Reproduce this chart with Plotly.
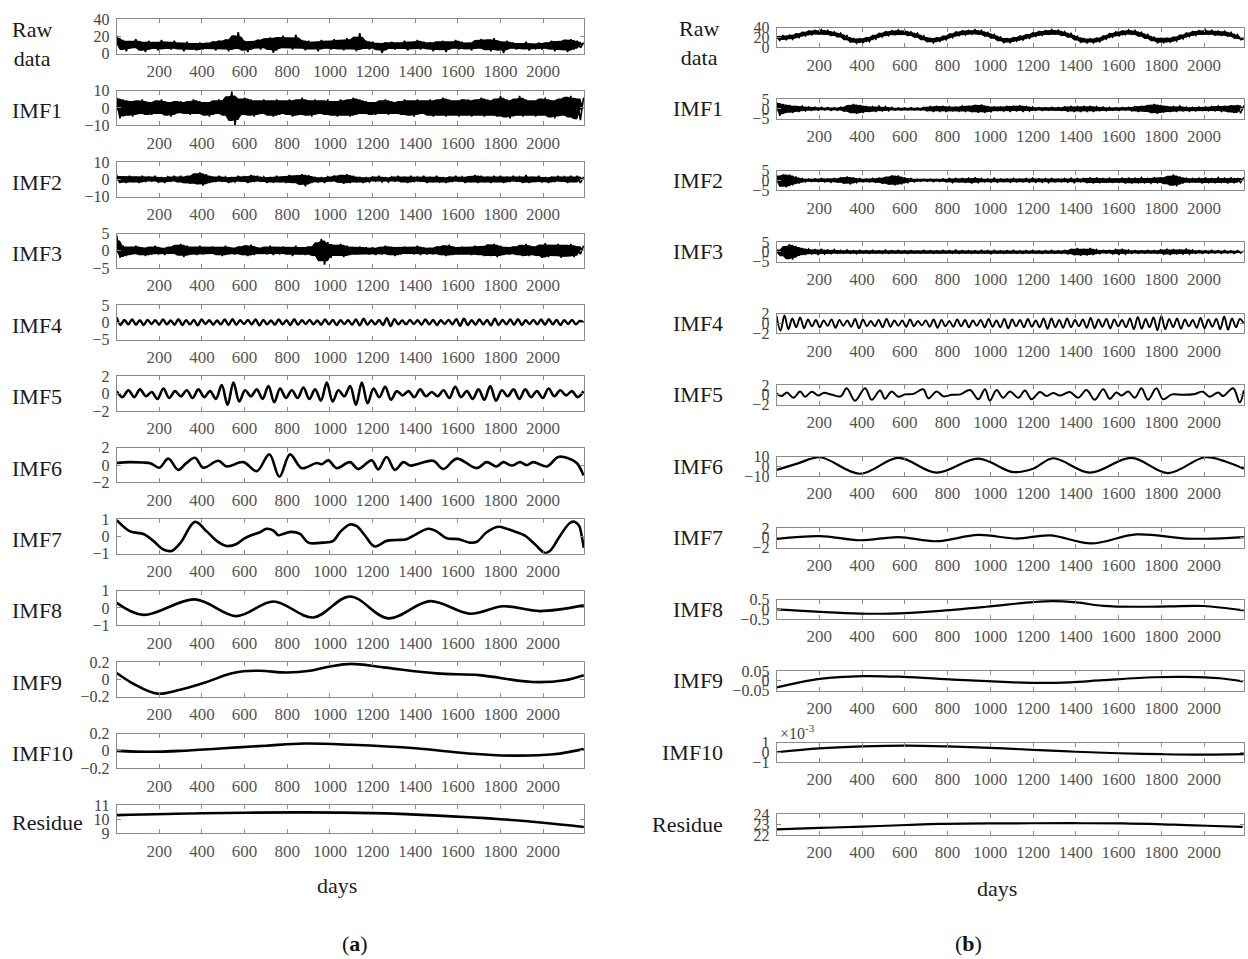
import plotly.graph_objects as go

FONT = "Liberation Serif"
W, H = 1248, 959

# ---------------- tick labels ----------------
X_TICKS = [200, 400, 600, 800, 1000, 1200, 1400, 1600, 1800, 2000]
ROW_NAMES_A = ["Raw<br>data", "IMF1", "IMF2", "IMF3", "IMF4", "IMF5", "IMF6",
               "IMF7", "IMF8", "IMF9", "IMF10", "Residue"]
ROW_NAMES_B = ROW_NAMES_A
Y_TICKS_A = [[0, 20, 40], [-10, 0, 10], [-10, 0, 10], [-5, 0, 5], [-5, 0, 5],
             [-2, 0, 2], [-2, 0, 2], [-1, 0, 1], [-1, 0, 1], [-0.2, 0, 0.2],
             [-0.2, 0, 0.2], [9, 10, 11]]
Y_TEXT_A = [["0", "20", "40"], ["\u221210", "0", "10"], ["\u221210", "0", "10"],
            ["\u22125", "0", "5"], ["\u22125", "0", "5"], ["\u22122", "0", "2"],
            ["\u22122", "0", "2"], ["\u22121", "0", "1"], ["\u22121", "0", "1"],
            ["\u22120.2", "0", "0.2"], ["\u22120.2", "0", "0.2"], ["9", "10", "11"]]
Y_TICKS_B = [[0, 20, 40], [-5, 0, 5], [-5, 0, 5], [-5, 0, 5], [-2, 0, 2],
             [-2, 0, 2], [-10, 0, 10], [-2, 0, 2], [-0.5, 0, 0.5],
             [-0.05, 0, 0.05], [-1, 0, 1], [22, 23, 24]]
Y_TEXT_B = [["0", "20", "40"], ["\u22125", "0", "5"], ["\u22125", "0", "5"],
            ["\u22125", "0", "5"], ["\u22122", "0", "2"], ["\u22122", "0", "2"],
            ["\u221210", "0", "10"], ["\u22122", "0", "2"], ["\u22120.5", "0", "0.5"],
            ["\u22120.05", "0", "0.05"], ["\u22121", "0", "1"], ["22", "23", "24"]]

# ---------------- panel (a) data ----------------
a_raw = [21, 6, 16, 3, 14, 8, 17, 5, 13, 2,
         15, 7, 12, 4, 16, 6, 13, 5, 15, 7,
         12, 3, 14, 6, 11, 4, 13, 5, 12, 6,
         14, 4, 15, 7, 16, 3, 18, 6, 25, 5,
         15, 2, 14, 7, 16, 5, 17, 8, 19, 1,
         18, 6, 21, 7, 17, 5, 22, 8, 16, 4,
         15, 6, 13, 3, 16, 7, 14, 5, 17, 6,
         15, 4, 18, 7, 16, 3, 24, 6, 15, 5,
         14, 7, 12, 1, 13, 6, 14, 5, 12, 7,
         15, 4, 13, 6, 16, 5, 14, 7, 13, 3,
         14, 6, 15, 2, 13, 7, 16, 5, 14, 6,
         12, 4, 15, 7, 17, 5, 16, 3, 18, 6,
         14, 1, 15, 7, 13, 5, 12, 6, 14, 4,
         11, 6, 13, 5, 12, 7, 15, 3, 14, 6,
         16, 2, 17, 5, 15, 7, 13]
a_imf1 = [6, -6, 5, -4, 4, -5, 4, -3, 5, -4,
          3, -4, 4, -3, 5, -4, 3, -5, 4, -3,
          4, -3, 3, -4, 5, -3, 4, -4, 3, -5,
          4, -3, 5, -4, 4, -5, 9.5, -10, 5, -4,
          6, -4, 5, -5, 4, -3, 5, -4, 4, -5,
          5, -4, 4, -3, 5, -5, 4, -4, 6, -4,
          4, -5, 5, -3, 4, -4, 5, -4, 3, -5,
          5, -4, 4, -5, 6, -4, 5, -3, 4, -4,
          3, -4, 4, -3, 5, -4, 4, -3, 3, -4,
          5, -4, 4, -5, 5, -3, 4, -4, 5, -5,
          4, -4, 6, -5, 5, -4, 4, -5, 5, -4,
          5, -5, 4, -4, 6, -5, 5, -4, 4, -5,
          7, -5, 5, -6, 4, -4, 7, -5, 5, -4,
          4, -5, 5, -4, 6, -5, 4, -6, 5, -4,
          6, -5, 7, -6, 5, -7, 6]
a_imf2 = [2.5, -2, 1.5, -2, 2, -1.5, 1.5, -2, 2, -1.5,
          1.5, -1, 2, -1.5, 1, -2, 1.5, -1, 2, -1.5,
          2, -2, 1.5, -2.5, 3, -2.5, 4, -3.5, 3, -2,
          1.5, -1.5, 2, -1, 1.5, -2, 1, -1.5, 2, -1,
          1.5, -2, 2.5, -1.5, 2, -1, 1.5, -2, 1, -1.5,
          2, -1.5, 1.5, -2, 2.5, -2, 2, -2.5, 3, -4,
          2.5, -2, 1.5, -1.5, 1, -2, 1.5, -1, 2, -1.5,
          2.5, -2.5, 3, -2, 2, -1.5, 1.5, -2, 1, -1.5,
          1.5, -1, 2, -1.5, 1, -1.5, 1.5, -1, 2, -1.5,
          1.5, -2, 2, -1.5, 1.5, -1, 2, -2, 1.5, -1.5,
          2, -1.5, 1, -2, 1.5, -1.5, 2, -1, 1.5, -2,
          1.5, -1.5, 2.5, -2, 2, -1.5, 1.5, -2, 2, -1.5,
          2, -2, 1.5, -1.5, 2, -1, 1.5, -2, 2.5, -2,
          1.5, -1.5, 2, -1.5, 1, -2, 1.5, -1.5, 2, -1,
          1.5, -2, 2, -1.5, 2, -2, 1.5]
a_imf3 = [4.5, -2, 1.5, -1.5, 1, -1, 1.5, -1, 1, -1.5,
          1, -1, 1.5, -1, 0.8, -1.2, 1, -0.8, 1.5, -1,
          2, -1.8, 1.5, -1, 1, -1.2, 1.5, -1, 1, -0.8,
          1.2, -1, 1, -1.5, 1.5, -1, 0.8, -1, 1.2, -1,
          1.5, -1.5, 1.8, -1.2, 1, -0.8, 1, -1, 1.5, -1.2,
          1, -1, 1.2, -0.8, 1, -1.5, 1.5, -1, 1, -1.2,
          1.2, -1, 1.5, -2, 3.5, -4, 2.5, -2, 1.5, -1,
          2, -1.8, 1.5, -1.2, 1, -1, 1.2, -0.8, 1, -1,
          1, -1.2, 0.8, -1, 1.5, -1, 1.2, -1.5, 1, -1,
          1.2, -0.8, 1, -1, 1.5, -1.2, 1, -1, 0.8, -1,
          1.2, -1, 1.5, -1.5, 1.8, -1.2, 1, -1, 1.2, -0.8,
          1, -1.2, 1.5, -1, 1.2, -1.5, 1.8, -1.5, 2, -1.8,
          1.5, -1.2, 1, -1, 1.2, -1, 1.5, -1.5, 2, -1.5,
          1.2, -1, 1.5, -2, 2.2, -1.8, 1.5, -1.2, 2, -2,
          1.5, -1.5, 2, -1.8, 1.2, -1, 1.5]
a_imf4 = [1.4, -0.8, 0.7, -0.6, 0.8, -0.7, 0.6, -0.8, 0.7, -0.5,
          0.6, -0.7, 0.8, -0.6, 0.5, -0.7, 0.9, -0.8, 0.6, -0.6,
          0.7, -0.9, 0.8, -0.5, 0.6, -0.7, 0.5, -0.6, 0.8, -0.8,
          0.9, -0.7, 0.6, -0.5, 0.7, -0.6, 0.8, -0.9, 0.7, -0.6,
          0.5, -0.7, 0.8, -0.6, 0.6, -0.8, 0.9, -0.7, 0.6, -0.5,
          0.7, -0.6, 0.5, -0.7, 0.8, -0.6, 0.7, -0.8, 0.6, -0.5,
          0.6, -0.7, 0.8, -0.9, 1.0, -0.7, 0.6, -0.6, 0.7, -0.8,
          1.2, -1.1, 0.9, -0.6, 0.5, -0.6, 0.7, -0.5, 0.6, -0.7,
          0.8, -0.6, 0.7, -0.8, 0.6, -0.5, 0.7, -0.6, 0.9, -1.0,
          1.0, -0.8, 0.6, -0.7, 0.8, -0.6, 0.7, -0.9, 1.0, -0.8,
          0.7, -0.6, 0.8, -0.7, 0.9, -0.8, 0.6, -0.5, 0.7, -0.6,
          0.8, -0.7, 0.9, -0.6, 0.7, -0.8, 0.6, -0.5, 0.7, -0.6,
          0.4, 0.0]
a_imf5 = [0.3, -0.4, 0.4, -0.4, 0.5, -0.3, 0.2, -0.6, 0.6, -0.5,
          0.3, -0.3, 0.4, -0.5, 0.5, -0.4, 0.3, -0.6, 1.0, -1.3,
          1.3, -0.9, 0.4, -0.3, 0.5, -0.6, 0.9, -1.0, 0.6, -0.5,
          0.4, -0.5, 0.7, -0.6, 0.5, -0.8, 1.3, -0.9, 0.4, -0.3,
          0.9, -1.3, 1.3, -1.1, 0.6, -0.4, 0.8, -0.7, 0.3, -0.2,
          0.3, -0.4, 0.5, -0.3, 0.2, -0.3, 0.4, -0.5, 0.8, -0.4,
          0.3, -0.6, 0.5, -0.7, 0.9, -0.8, 0.4, -0.3, 0.5, -0.6,
          0.5, -0.4, 0.3, -0.5, 0.6, -0.3, 0.4, -0.2, 0.3, -0.4,
          0.3]
a_imf6_days = [0, 60, 120, 160, 200, 242, 289, 325, 367, 406, 477, 516, 594, 657,
               716, 763, 813, 868, 938, 960, 993, 1032, 1094, 1133, 1196, 1227,
               1266, 1305, 1345, 1376, 1420, 1485, 1532, 1595, 1689, 1735, 1782,
               1813, 1853, 1892, 1923, 1954, 2017, 2071, 2118, 2158, 2190]
a_imf6 = [0.25, 0.35, 0.3, 0.2, -0.3, 0.75, -0.55, 0.2, 0.85, -0.3, 0.5, -0.15,
          0.35, -0.7, 1.25, -1.35, 1.25, -0.35, 0.25, 0.1, 0.55, -0.35, 0.35,
          -0.45, 0.55, -0.5, 0.95, -0.55, 0.35, -0.05, 0.2, 0.5, -0.45, 0.75,
          -0.35, 0.35, -0.15, 0.35, -0.05, 0.35, 0.0, 0.35, -0.15, 0.95, 0.8,
          0.25, -1.2]
a_imf7_days = [0, 63, 125, 172, 219, 258, 300, 367, 422, 469, 516, 560, 594, 625,
               672, 703, 735, 758, 780, 820, 860, 899, 969, 1016, 1047, 1094, 1126,
               1165, 1210, 1266, 1313, 1360, 1407, 1462, 1500, 1548, 1603, 1657,
               1690, 1735, 1790, 1830, 1876, 1915, 1962, 2009, 2035, 2080, 2127,
               2150, 2170, 2181, 2191]
a_imf7 = [0.95, 0.3, 0.15, -0.25, -0.75, -0.83, -0.35, 0.85, 0.3, -0.25, -0.55,
          -0.45, -0.15, 0.05, 0.25, 0.45, 0.35, 0.08, 0.15, 0.27, 0.15, -0.35,
          -0.35, -0.25, 0.25, 0.7, 0.6, 0.05, -0.57, -0.25, -0.2, -0.15, 0.15,
          0.45, 0.3, -0.1, -0.15, -0.35, -0.3, 0.25, 0.57, 0.45, 0.25, 0.05,
          -0.45, -0.95, -0.8, 0.05, 0.8, 0.85, 0.6, 0.05, -0.65]
a_imf8_days = [0, 125, 367, 563, 735, 922, 1094, 1274, 1470, 1657, 1813, 1985, 2191]
a_imf8 = [0.3, -0.4, 0.5, -0.47, 0.38, -0.55, 0.67, -0.6, 0.4, -0.33, 0.1, -0.18, 0.15]
a_imf9_days = [0, 78, 190, 297, 422, 531, 594, 672, 800, 906, 1000, 1100, 1250,
               1500, 1700, 1950, 2100, 2191]
a_imf9 = [0.075, -0.05, -0.165, -0.12, -0.03, 0.065, 0.095, 0.1, 0.08, 0.1, 0.15,
          0.18, 0.14, 0.07, 0.05, -0.03, -0.01, 0.05]
a_imf10_days = [0, 150, 300, 500, 700, 880, 1100, 1400, 1650, 1850, 2050, 2191]
a_imf10 = [0.0, -0.01, 0.0, 0.03, 0.06, 0.085, 0.07, 0.03, -0.03, -0.055, -0.04, 0.02]
a_res_days = [0, 400, 860, 1200, 1484, 1800, 2000, 2191]
a_res = [10.29, 10.42, 10.48, 10.43, 10.27, 10.0, 9.75, 9.45]

# ---------------- panel (b) data ----------------
b_raw = [22, 14, 24, 15.5, 24.5, 16, 26.5, 19.5, 30.5, 23,
         33, 25, 35, 27, 36, 26.5, 34.5, 24, 31.5, 21.5,
         29, 18, 24, 11, 18, 8, 17.5, 9, 19, 11.5,
         23, 16.5, 28, 21, 31.5, 23.5, 33.5, 25.5, 35.5, 26.5,
         34.5, 24, 31.5, 21.5, 29, 17.5, 23.5, 11.5, 18.5, 9,
         19, 11.5, 22, 15, 26, 19.5, 31, 23.5, 33.5, 25,
         34.5, 26.5, 36, 27, 34.5, 23.5, 30.5, 19.5, 26.5, 15,
         21, 9.5, 17.5, 9, 19.5, 12, 22.5, 14.5, 25, 18,
         29, 22, 32, 24, 34, 26.5, 36, 27, 35, 24.5,
         32, 21.5, 28.5, 17, 22.5, 10.5, 18, 8.5, 17.5, 8.5,
         18, 10.5, 22, 16, 27.5, 20.5, 31, 23, 33, 25.5,
         35.5, 26.5, 34.5, 23.5, 30.5, 19.5, 26.5, 14.5, 20.5, 9.5,
         18, 9, 18.5, 10, 20, 12.5, 23.5, 17, 28.5, 21.5,
         32, 24, 34, 26.5, 36, 26.5, 34.5, 24.5, 33, 24,
         33, 23, 30.5, 19.5, 26, 15.5, 17]
b_imf1 = [3.5, -3.5, 2.5, -2, 2, -2, 1.5, -1.5, 1.5, -1,
          1, -0.8, 1, -0.7, 0.8, -0.6, 0.7, -0.8, 0.6, -0.7,
          0.8, -1, 1.5, -2, 2.5, -2.5, 2, -2, 1.5, -1.5,
          1.2, -1.5, 1.5, -1, 1.2, -1, 0.8, -0.6, 0.5, -0.6,
          0.5, -0.5, 0.6, -0.5, 0.5, -0.6, 0.8, -1, 1.2, -1.5,
          1.5, -1.2, 1.5, -1.5, 1.2, -1, 1, -1.2, 1.5, -1.2,
          1.5, -1.5, 2, -2, 2.2, -2, 1.5, -1.5, 1, -0.8,
          1, -1.2, 1.5, -1.5, 1.5, -1.2, 1.8, -1.5, 1.5, -1.2,
          1, -0.8, 0.7, -0.8, 0.6, -0.7, 0.8, -0.6, 0.7, -0.8,
          1, -1.2, 1.5, -1.5, 1.2, -1.5, 1.5, -1.2, 1.5, -1.5,
          1.2, -1, 1, -1, 0.8, -0.7, 0.6, -0.8, 0.7, -0.6,
          0.8, -1, 1.2, -1.5, 1.5, -1.2, 1.8, -2, 2.5, -2.5,
          2, -1.8, 1.5, -1.5, 1.2, -1.5, 1.5, -1, 1, -1.2,
          0.8, -1, 1, -0.8, 1, -1, 1.2, -1, 1.5, -1.2,
          1.5, -1.5, 1.8, -2, 2, -2.2, 1.8]
b_imf2 = [2, -3, 3, -3.5, 3, -2.5, 2, -1.5, 1, -0.8,
          0.7, -0.6, 0.8, -0.7, 1, -0.8, 0.7, -1, 1, -0.8,
          1.2, -1.5, 2, -2, 1.5, -1.2, 1, -0.8, 0.7, -0.8,
          1, -1, 1.2, -1.5, 1.5, -2, 2.5, -2.5, 2.5, -2,
          1.5, -1.2, 1, -0.8, 0.6, -0.5, 0.6, -0.5, 0.6, -0.7,
          0.5, -0.6, 0.8, -0.8, 1, -1.2, 1, -0.8, 1, -1,
          1.2, -1.5, 1.5, -1.2, 1, -0.8, 0.8, -1, 1.2, -1,
          0.8, -0.7, 0.8, -1, 1, -0.8, 0.7, -0.8, 1, -1,
          1.2, -1, 0.8, -1, 1, -1.2, 1, -0.8, 0.7, -0.8,
          1, -1, 1.2, -1.2, 1, -0.8, 1, -1.2, 1.5, -1.5,
          1.5, -1.2, 1, -1, 1.2, -1, 0.8, -1, 1.2, -1.5,
          1.5, -1.5, 1.2, -1.2, 1.5, -1.2, 1, -1.5, 1.5, -1.2,
          1.5, -1.5, 1.8, -2.5, 3, -3, 2, -1.5, 1.2, -1,
          1, -0.8, 1.2, -1.5, 1.5, -1.2, 1, -1.2, 1.5, -1,
          1.2, -1.5, 1.5, -1.2, 1, -1.2, 1.5]
b_imf3 = [0.5, -1, 2, -3.5, 4, -4, 3, -2, 2, -1.5,
          1.5, -1, 1.2, -1.5, 1.5, -1.2, 1, -1, 1.2, -0.8,
          0.8, -0.7, 1, -0.8, 0.7, -1, 0.8, -0.6, 0.7, -0.8,
          0.8, -0.7, 0.6, -0.8, 1, -0.8, 0.7, -0.6, 0.8, -0.7,
          0.6, -0.8, 0.7, -0.6, 0.5, -0.7, 0.8, -0.6, 0.7, -0.8,
          0.6, -0.7, 0.8, -0.6, 0.7, -0.8, 1, -0.8, 0.7, -0.6,
          0.7, -0.8, 0.6, -0.7, 0.8, -0.6, 0.7, -1, 0.8, -0.7,
          0.6, -0.8, 0.7, -0.6, 0.8, -0.7, 0.6, -0.8, 0.7, -0.6,
          0.8, -0.7, 0.6, -0.8, 0.7, -0.6, 0.8, -0.7, 0.6, -0.8,
          0.8, -1, 1.2, -1.5, 2, -2, 1.5, -1.8, 2, -1.5,
          1.2, -1, 0.8, -0.7, 0.8, -1, 1.2, -1.5, 1.5, -1.2,
          1, -0.8, 0.7, -0.8, 0.6, -0.7, 0.8, -0.6, 0.7, -0.8,
          1, -1.2, 1.5, -1.5, 1.2, -1, 1, -1.2, 1.5, -1.2,
          1, -0.8, 0.7, -0.8, 0.6, -0.7, 0.8, -0.6, 0.7, -0.8,
          0.8, -0.7, 0.6, -0.8, 0.7, -0.6, 0.5]
b_imf4 = [1.5, -1.5, 1.6, -1.2, 1.0, -0.8, 1.2, -1.0, 0.8, -0.6,
          0.7, -0.8, 0.6, -0.5, 0.8, -0.9, 0.7, -0.5, 0.6, -0.7,
          0.9, -1.0, 0.8, -0.6, 0.5, -0.6, 0.7, -0.8, 0.9, -0.7,
          0.6, -0.5, 0.6, -0.7, 0.8, -0.6, 0.5, -0.4, 0.6, -0.7,
          0.8, -0.9, 0.7, -0.6, 0.5, -0.7, 0.8, -0.6, 0.7, -0.8,
          0.6, -0.5, 0.7, -0.8, 0.9, -0.7, 0.6, -0.8, 0.9, -1.0,
          0.8, -0.6, 0.7, -0.8, 0.9, -0.7, 0.6, -0.8, 1.0, -1.1,
          1.0, -0.8, 0.7, -0.9, 1.0, -0.8, 0.7, -0.6, 0.8, -0.9,
          1.1, -1.0, 0.8, -0.7, 0.9, -1.0, 0.8, -0.6, 0.7, -0.8,
          1.0, -1.2, 1.3, -1.1, 0.9, -0.8, 1.2, -1.4, 1.5, -1.2,
          0.9, -0.8, 1.0, -1.1, 0.8, -0.6, 0.7, -0.9, 1.1, -1.0,
          0.8, -0.7, 0.9, -1.2, 1.4, -1.3, 1.0, -0.8, 0.9, 0.0]
b_imf5_days = [0, 24, 48, 79, 110, 133, 165, 196, 219, 260, 300, 328, 367, 414,
               445, 484, 507, 538, 570, 600, 640, 686, 710, 749, 780, 820, 860,
               905, 944, 975, 998, 1029, 1060, 1092, 1131, 1162, 1193, 1232, 1263,
               1294, 1325, 1372, 1411, 1450, 1489, 1528, 1559, 1590, 1614, 1645,
               1676, 1707, 1738, 1777, 1808, 1850, 1900, 1950, 1995, 2026, 2066,
               2089, 2136, 2167, 2186]
b_imf5 = [0.25, -0.25, 0.5, -0.6, 0.7, -0.4, 0.65, -0.15, 0.4, 0.0, -0.3, 1.35,
          -1.2, 1.35, -1.0, 0.9, -0.8, 0.7, -0.4, 0.1, 0.2, 1.15, -0.7, 0.7, -0.3,
          0.0, 0.1, 1.0, -0.9, 1.15, -1.2, 1.0, -0.6, 0.7, -0.6, 0.9, -0.9, 0.6,
          -0.25, 0.4, -0.15, 0.6, -0.6, 1.0, -1.0, 1.15, -0.8, 0.5, -0.15, 0.7,
          -0.6, 1.35, -1.0, 1.35, -0.9, 0.1, 0.0, 0.1, 0.65, -0.4, 0.5, -0.25,
          1.35, -1.55, 0.9]
b_imf6_days = [0, 100, 203, 390, 570, 749, 943, 1107, 1200, 1294, 1466, 1660,
               1832, 2003, 2100, 2186]
b_imf6 = [-3.8, 3, 9.3, -7.6, 8.6, -6.5, 7.9, -5.9, -2.5, 8.3, -6.5, 8.6, -6.9,
          9.3, 5, -2.4]
b_imf7_days = [0, 203, 390, 570, 749, 943, 1123, 1279, 1473, 1683, 1917, 2050, 2186]
b_imf7 = [-0.2, 0.35, -0.5, 0.15, -0.7, 0.6, -0.15, 0.5, -1.15, 0.7, -0.15, -0.15, 0.15]
b_imf8_days = [0, 203, 390, 530, 749, 981, 1200, 1294, 1403, 1528, 1683, 1840,
               1996, 2186]
b_imf8 = [0.0, -0.13, -0.22, -0.22, -0.09, 0.13, 0.37, 0.42, 0.35, 0.18, 0.13,
          0.15, 0.17, -0.06]
b_imf9_days = [0, 203, 405, 593, 826, 1060, 1216, 1372, 1528, 1762, 1917, 2073, 2182]
b_imf9 = [-0.034, 0.01, 0.024, 0.02, 0.006, -0.006, -0.011, -0.008, 0.003, 0.018,
          0.02, 0.013, -0.003]
b_imf10_days = [0, 200, 400, 610, 800, 1000, 1200, 1400, 1600, 1800, 2000, 2186]
b_imf10_e3 = [0.0, 0.4, 0.6, 0.68, 0.6, 0.45, 0.25, 0.05, -0.1, -0.2, -0.25, -0.2]
b_res_days = [0, 200, 400, 610, 764, 998, 1386, 1620, 1854, 2012, 2181]
b_res = [22.54, 22.67, 22.8, 22.95, 23.05, 23.1, 23.12, 23.1, 22.98, 22.88, 22.77]


def even_days(vals, last):
    n = len(vals)
    return [last * i / (n - 1) for i in range(n)]


def core_band(v):
    """Inner envelope of a densely oscillating series: the region that the
    line fully blackens at this scale."""
    n = len(v)
    hi, lo = [], []
    for i in range(n):
        w = sorted(v[max(0, i - 1): min(n, i + 3)])
        hi.append((w[-1] + w[-2]) / 2)
        lo.append((w[0] + w[1]) / 2)
    return hi, lo


A_END, B_END = 2190, 2186
# (x, y, shape, dense, line width)
series_a = [
    (even_days(a_raw, A_END), a_raw, "linear", True, 1.6),
    (even_days(a_imf1, A_END), a_imf1, "linear", True, 1.6),
    (even_days(a_imf2, A_END), a_imf2, "linear", True, 1.6),
    (even_days(a_imf3, A_END), a_imf3, "linear", True, 1.6),
    (even_days(a_imf4, A_END), a_imf4, "spline", False, 2.4),
    (even_days(a_imf5, A_END), a_imf5, "spline", False, 2.6),
    (a_imf6_days, a_imf6, "spline", False, 2.6),
    (a_imf7_days, a_imf7, "spline", False, 2.6),
    (a_imf8_days, a_imf8, "spline", False, 2.6),
    (a_imf9_days, a_imf9, "spline", False, 2.6),
    (a_imf10_days, a_imf10, "spline", False, 2.6),
    (a_res_days, a_res, "spline", False, 2.6),
]
series_b = [
    (even_days(b_raw, B_END), b_raw, "linear", True, 1.5),
    (even_days(b_imf1, B_END), b_imf1, "linear", True, 1.5),
    (even_days(b_imf2, B_END), b_imf2, "linear", True, 1.5),
    (even_days(b_imf3, B_END), b_imf3, "linear", True, 1.5),
    (even_days(b_imf4, B_END), b_imf4, "spline", False, 1.9),
    (b_imf5_days, b_imf5, "spline", False, 2.0),
    (b_imf6_days, b_imf6, "spline", False, 2.2),
    (b_imf7_days, b_imf7, "spline", False, 2.2),
    (b_imf8_days, b_imf8, "spline", False, 2.2),
    (b_imf9_days, b_imf9, "spline", False, 2.2),
    (b_imf10_days, b_imf10_e3, "spline", False, 2.2),
    (b_res_days, b_res, "spline", False, 2.2),
]

# ---------------- layout geometry (pixels) ----------------
A_X0, A_X1, A_XMAX = 116.7, 584.0, 2192
B_X0, B_X1, B_XMAX = 776.6, 1244.0, 2187
A_TOP0, A_STEP = 19.3, 71.43
B_TOP0, B_STEP = 27.7, 71.48

FRAME = "#8a8a8a"
fig = go.Figure()
layout = dict(width=W, height=H, margin=dict(l=0, r=0, t=0, b=0, autoexpand=False),
              paper_bgcolor="white", plot_bgcolor="white", showlegend=False,
              font=dict(family=FONT, color="#222"))
annotations = []


def add_panel(series, yticks, ytext, names, offset, x0, x1, xmax, top0, step,
              heights, label_cfg):
    for i, (xs, ys, shape, dense, lw) in enumerate(series):
        n = offset + i + 1
        sfx = "" if n == 1 else str(n)
        top = top0 + i * step
        bot = top + heights[i]
        if dense:
            hi, lo = core_band(ys)
            fig.add_trace(go.Scatter(x=xs, y=lo, mode="lines", xaxis="x" + sfx,
                                     yaxis="y" + sfx, line=dict(width=0, color="black"),
                                     hoverinfo="skip"))
            fig.add_trace(go.Scatter(x=xs, y=hi, mode="lines", xaxis="x" + sfx,
                                     yaxis="y" + sfx, line=dict(width=0, color="black"),
                                     fill="tonexty", fillcolor="black",
                                     hoverinfo="skip"))
        fig.add_trace(go.Scatter(
            x=xs, y=ys, mode="lines", xaxis="x" + sfx, yaxis="y" + sfx,
            line=dict(color="black", shape=shape, width=lw), hoverinfo="skip"))
        yt = yticks[i]
        layout["xaxis" + sfx] = dict(
            domain=[x0 / W, x1 / W], range=[0, xmax], anchor="y" + sfx,
            tickvals=X_TICKS, ticks="inside", ticklen=4, tickcolor=FRAME,
            showline=True, linecolor=FRAME, linewidth=1, mirror="ticks",
            showgrid=False, zeroline=False, ticklabelstandoff=2, automargin=False,
            tickfont=dict(family=FONT, size=17, color="#555"))
        layout["yaxis" + sfx] = dict(
            domain=[1 - bot / H, 1 - top / H], range=[yt[0], yt[-1]],
            anchor="x" + sfx, tickvals=yt, ticktext=ytext[i], ticks="inside",
            ticklen=4, tickcolor=FRAME, showline=True, linecolor=FRAME,
            linewidth=1, mirror="ticks", showgrid=False, zeroline=False,
            ticklabelstandoff=3, automargin=False,
            tickfont=dict(family=FONT, size=16, color="#444"))
        lx, anchor, dy = label_cfg(i)
        annotations.append(dict(
            text=names[i], xref="paper", yref="paper", x=lx / W,
            y=1 - ((top + bot) / 2 + dy) / H, xanchor=anchor, yanchor="middle",
            showarrow=False, align="center",
            font=dict(family=FONT, size=22, color="#1a1a1a")))


heights_a = [34.5] * 11 + [28.3]
heights_b = [19.5] * 11 + [21.0]


def label_a(i):
    if i == 0:
        return 31.5, "center", 7
    return 10, "left", 3


def label_b(i):
    if i == 0:
        return 699, "center", 6
    return 725, "right", 0


add_panel(series_a, Y_TICKS_A, Y_TEXT_A, ROW_NAMES_A, 0, A_X0, A_X1, A_XMAX,
          A_TOP0, A_STEP, heights_a, label_a)
add_panel(series_b, Y_TICKS_B, Y_TEXT_B, ROW_NAMES_B, 12, B_X0, B_X1, B_XMAX,
          B_TOP0, B_STEP, heights_b, label_b)

# multiplier label for panel (b) IMF10
annotations.append(dict(text="\u00d710<sup>-3</sup>", xref="paper", yref="paper",
                        x=778 / W, y=1 - 732 / H, xanchor="left", yanchor="middle",
                        showarrow=False, font=dict(family=FONT, size=16, color="#444")))
# axis titles
annotations.append(dict(text="days", xref="paper", yref="paper", x=337 / W,
                        y=1 - 885 / H, xanchor="center", yanchor="middle",
                        showarrow=False, font=dict(family=FONT, size=22, color="#222")))
annotations.append(dict(text="days", xref="paper", yref="paper", x=997 / W,
                        y=1 - 888 / H, xanchor="center", yanchor="middle",
                        showarrow=False, font=dict(family=FONT, size=22, color="#222")))
annotations.append(dict(text="(<b>a</b>)", xref="paper", yref="paper", x=355 / W,
                        y=1 - 943 / H, xanchor="center", yanchor="middle",
                        showarrow=False, font=dict(family=FONT, size=22, color="#111")))
annotations.append(dict(text="(<b>b</b>)", xref="paper", yref="paper", x=968 / W,
                        y=1 - 943 / H, xanchor="center", yanchor="middle",
                        showarrow=False, font=dict(family=FONT, size=22, color="#111")))

layout["annotations"] = annotations
fig.update_layout(**layout)
fig.write_html("out.html")
